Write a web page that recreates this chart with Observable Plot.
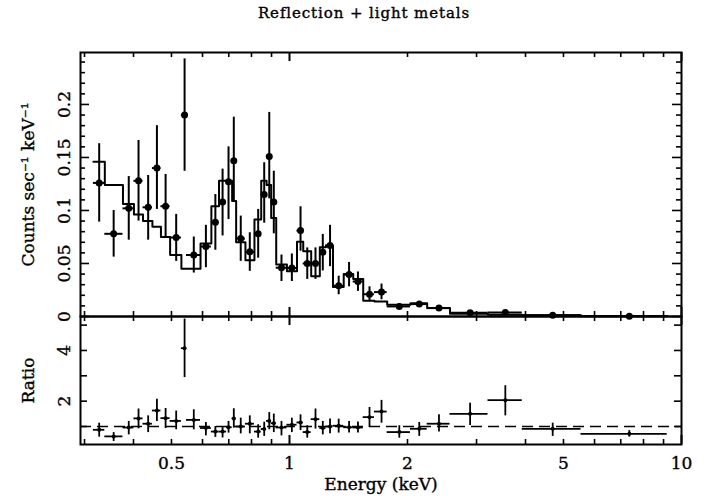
<!DOCTYPE html>
<html><head><meta charset="utf-8">
<script src="https://cdn.jsdelivr.net/npm/d3@7"></script>
<script src="https://cdn.jsdelivr.net/npm/@observablehq/plot@0.6"></script>
<style>
html,body{margin:0;padding:0;background:#fff;}
#wrap{position:relative;width:708px;height:496px;font-family:"DejaVu Serif",serif;color:#000;}
#title{position:absolute;top:5px;left:0;width:688px;padding-left:20px;text-align:center;font-size:15px;letter-spacing:0.9px;line-height:17px;-webkit-text-stroke:0.35px #000;}
#top,#bot{position:absolute;left:0;}
#top{top:0;}
#bot{top:312px;}
</style></head><body>
<div id="wrap"><div id="title">Reflection + light metals</div><div id="top"></div><div id="bot"></div></div>
<script>
// Bin edges (keV)
const edges = [0.316, 0.338, 0.376, 0.401, 0.423, 0.447, 0.470, 0.496, 0.530, 0.546, 0.593, 0.632, 0.661, 0.691, 0.714, 0.731, 0.772, 0.814, 0.847, 0.874, 0.898, 0.925, 0.985, 1.045, 1.084, 1.136, 1.195, 1.239, 1.291, 1.375, 1.454, 1.542, 1.647, 1.775, 2.035, 2.245, 2.567, 3.209, 3.924, 5.541, 9.193];
// Data point energies (keV)
const centers = [0.327, 0.356, 0.389, 0.412, 0.436, 0.459, 0.483, 0.514, 0.540, 0.570, 0.612, 0.647, 0.675, 0.699, 0.721, 0.751, 0.792, 0.832, 0.862, 0.888, 0.912, 0.954, 1.014, 1.067, 1.110, 1.165, 1.216, 1.269, 1.335, 1.419, 1.495, 1.600, 1.717, 1.906, 2.143, 2.406, 2.889, 3.553, 4.693, 7.36];
// Counts sec^-1 keV^-1
const counts = [0.126, 0.078, 0.102, 0.128, 0.103, 0.140, 0.104, 0.0745, 0.190, 0.058, 0.066, 0.089, 0.108, 0.127, 0.147, 0.0735, 0.061, 0.078, 0.115, 0.151, 0.108, 0.046, 0.0457, 0.081, 0.050, 0.050, 0.0606, 0.067, 0.029, 0.0395, 0.033, 0.021, 0.023, 0.0095, 0.0117, 0.0079, 0.0035, 0.0037, 0.0011, 0.0003];
const countsHi = [0.163, 0.100, 0.132, 0.166, 0.133, 0.180, 0.134, 0.0963, 0.243, 0.075, 0.086, 0.115, 0.139, 0.160, 0.188, 0.0947, 0.079, 0.101, 0.145, 0.1925, 0.137, 0.058, 0.059, 0.1035, 0.0647, 0.0647, 0.0774, 0.086, 0.038, 0.051, 0.042, 0.028, 0.0306, 0.012, 0.014, 0.0095, 0.0045, 0.005, 0.0015, 0.0005];
const countsLo = [0.089, 0.056, 0.072, 0.090, 0.072, 0.101, 0.074, 0.052, 0.137, 0.041, 0.046, 0.0625, 0.076, 0.0915, 0.109, 0.052, 0.0426, 0.055, 0.088, 0.111, 0.078, 0.033, 0.033, 0.0616, 0.035, 0.035, 0.043, 0.047, 0.0205, 0.028, 0.0237, 0.014, 0.0158, 0.007, 0.009, 0.0063, 0.0025, 0.0025, 0.0007, 0.0001];
// Model (step histogram)
const model = [0.146, 0.124, 0.106, 0.0963, 0.090, 0.0846, 0.075, 0.058, 0.045, 0.045, 0.0688, 0.104, 0.128, 0.128, 0.109, 0.070, 0.053, 0.0915, 0.128, 0.124, 0.093, 0.049, 0.0426, 0.0704, 0.0616, 0.038, 0.0653, 0.067, 0.0278, 0.040, 0.0353, 0.0149, 0.0142, 0.0111, 0.0126, 0.0079, 0.0025, 0.0017, 0.0012, 0.0004];
// Ratio panel
const ratio = [0.87, 0.61, 0.96, 1.32, 1.11, 1.63, 1.33, 1.22, 4.09, 1.26, 0.94, 0.80, 0.80, 0.97, 1.32, 1.00, 1.11, 0.80, 0.90, 1.22, 1.13, 0.96, 1.07, 1.16, 0.78, 1.29, 0.94, 1.00, 1.03, 0.97, 0.96, 1.37, 1.59, 0.78, 0.91, 1.11, 1.50, 2.04, 0.91, 0.71];
const ratioHi = [1.13, 0.76, 1.20, 1.69, 1.42, 2.08, 1.71, 1.61, 5.24, 1.66, 1.16, 1.00, 1.00, 1.20, 1.70, 1.33, 1.42, 1.07, 1.17, 1.55, 1.49, 1.20, 1.33, 1.46, 1.03, 1.69, 1.20, 1.30, 1.29, 1.20, 1.18, 1.75, 2.03, 1.03, 1.16, 1.46, 1.92, 2.61, 1.13, 0.84];
const ratioLo = [0.58, 0.41, 0.67, 0.91, 0.76, 1.20, 0.92, 0.87, 2.93, 0.87, 0.63, 0.57, 0.55, 0.74, 0.94, 0.71, 0.71, 0.54, 0.61, 0.87, 0.76, 0.63, 0.76, 0.84, 0.54, 0.90, 0.67, 0.71, 0.74, 0.74, 0.74, 0.96, 1.13, 0.54, 0.61, 0.78, 1.04, 1.42, 0.61, 0.58];

// Axis ticks
const xMinorTicks = [0.3, 0.4, 0.5, 0.6, 0.7, 0.8, 0.9, 2, 3, 4, 5, 6, 7, 8, 9];
const xMajorTicks = [1, 10];
const xLabelValues = [0.5, 1, 2, 5, 10];
const xLabelTexts = ["0.5", "1", "2", "5", "10"];
const yMinorTop = [0.01,0.02,0.03,0.04,0.06,0.07,0.08,0.09,0.11,0.12,0.13,0.14,0.16,0.17,0.18,0.19,0.21,0.22,0.23,0.24];
const yMajorTop = [0, 0.05, 0.1, 0.15, 0.2];
const yLabelsTop = ["0", "0.05", "0.1", "0.15", "0.2"];
const yMinorBot = [1, 3, 5];
const yMajorBot = [2, 4];
const yLabelsBot = ["2", "4"];

const rows = centers.map((c, i) => ({
  c, lo: edges[i], hi: edges[i + 1], n: counts[i], nLo: countsLo[i], nHi: countsHi[i],
  m: model[i], r: ratio[i], rLo: ratioLo[i], rHi: ratioHi[i]
}));
const step = rows.flatMap(d => [{x: d.lo, y: d.m}, {x: d.hi, y: d.m}]);

const W = 708, ML = 80, MR = 27, PW = W - ML - MR;
const xs = {type: "log", domain: [0.293, 10], axis: null};
const font = {fontFamily: "DejaVu Serif", background: "transparent", overflow: "visible"};
const LW = 2;
const txt = {stroke: "black", strokeWidth: 0.35, fill: "black"};

function xTicks(plotH) {
  return [
    Plot.tickX(xMinorTicks, {x: d => d, insetTop: plotH - 5, strokeWidth: 1.6}),
    Plot.tickX(xMinorTicks, {x: d => d, insetBottom: plotH - 5, strokeWidth: 1.6}),
    Plot.tickX(xMajorTicks, {x: d => d, insetTop: plotH - 9, strokeWidth: 2}),
    Plot.tickX(xMajorTicks, {x: d => d, insetBottom: plotH - 9, strokeWidth: 2})
  ];
}
function yTicks(minor, major, minLen, majLen) {
  return [
    Plot.tickY(minor, {y: d => d, insetRight: PW - minLen, strokeWidth: 1.6}),
    Plot.tickY(minor, {y: d => d, insetLeft: PW - minLen, strokeWidth: 1.6}),
    Plot.tickY(major, {y: d => d, insetRight: PW - majLen, strokeWidth: 1.6}),
    Plot.tickY(major, {y: d => d, insetLeft: PW - majLen, strokeWidth: 1.6})
  ];
}

const topH = 320, topMT = 52, topMB = 4, topPH = topH - topMT - topMB;
const topPlot = Plot.plot({
  width: W, height: topH, marginTop: topMT, marginBottom: topMB, marginLeft: ML, marginRight: MR,
  x: xs,
  y: {domain: [0, 0.249], axis: null},
  style: font,
  marks: [
    Plot.line(step, {x: "x", y: "y", stroke: "black", strokeWidth: LW}),
    Plot.ruleY(rows, {y: "n", x1: "lo", x2: "hi", strokeWidth: LW}),
    Plot.ruleX(rows, {x: "c", y1: "nLo", y2: "nHi", strokeWidth: LW}),
    Plot.dot(rows, {x: "c", y: "n", r: 3.5, fill: "black", stroke: "none"}),
    ...xTicks(topPH),
    ...yTicks(yMinorTop, yMajorTop, 5, 9),
    Plot.text(yMajorTop.map((v, i) => ({v, t: yLabelsTop[i]})), {
      y: "v", text: "t", frameAnchor: "left", dx: -11, rotate: -90,
      textAnchor: "middle", lineAnchor: "bottom", fontSize: 17, letterSpacing: 0.6, ...txt
    }),
    Plot.text(["Counts sec\u207B\u00B9 keV\u207B\u00B9"], {
      text: d => d, frameAnchor: "left", dx: -47, rotate: -90,
      textAnchor: "middle", lineAnchor: "bottom", fontSize: 17, letterSpacing: 2, ...txt
    }),
    Plot.frame({strokeWidth: LW})
  ]
});
document.getElementById("top").appendChild(topPlot);

const botH = 184, botMT = 4, botMB = 52, botPH = botH - botMT - botMB;
const botPlot = Plot.plot({
  width: W, height: botH, marginTop: botMT, marginBottom: botMB, marginLeft: ML, marginRight: MR,
  x: xs,
  y: {domain: [0.29, 5.34], axis: null},
  style: font,
  marks: [
    Plot.ruleY([1], {y: d => d, strokeDasharray: "11,6", strokeWidth: 1.6}),
    Plot.ruleY(rows, {y: "r", x1: "lo", x2: "hi", strokeWidth: 1.8}),
    Plot.ruleX(rows, {x: "c", y1: "rLo", y2: "rHi", strokeWidth: 1.8}),
    Plot.dot(rows, {x: "c", y: "r", r: 2, fill: "black", stroke: "none"}),
    ...xTicks(botPH),
    ...yTicks(yMinorBot, yMajorBot, 7, 7),
    Plot.text(yMajorBot.map((v, i) => ({v, t: yLabelsBot[i]})), {
      y: "v", text: "t", frameAnchor: "left", dx: -11, rotate: -90,
      textAnchor: "middle", lineAnchor: "bottom", fontSize: 17, ...txt
    }),
    Plot.text(["Ratio"], {
      text: d => d, frameAnchor: "left", dx: -47, rotate: -90,
      textAnchor: "middle", lineAnchor: "bottom", fontSize: 17, letterSpacing: 1.2, ...txt
    }),
    Plot.text(xLabelValues.map((v, i) => ({v, t: xLabelTexts[i]})), {
      x: "v", text: "t", frameAnchor: "bottom", dy: 19, lineAnchor: "middle",
      fontSize: 17, letterSpacing: 0.6, ...txt
    }),
    Plot.text(["Energy (keV)"], {
      text: d => d, frameAnchor: "bottom", dy: 40, lineAnchor: "middle",
      fontSize: 17, letterSpacing: 1.7, ...txt
    }),
    Plot.frame({strokeWidth: LW})
  ]
});
document.getElementById("bot").appendChild(botPlot);
</script>
</body></html>
